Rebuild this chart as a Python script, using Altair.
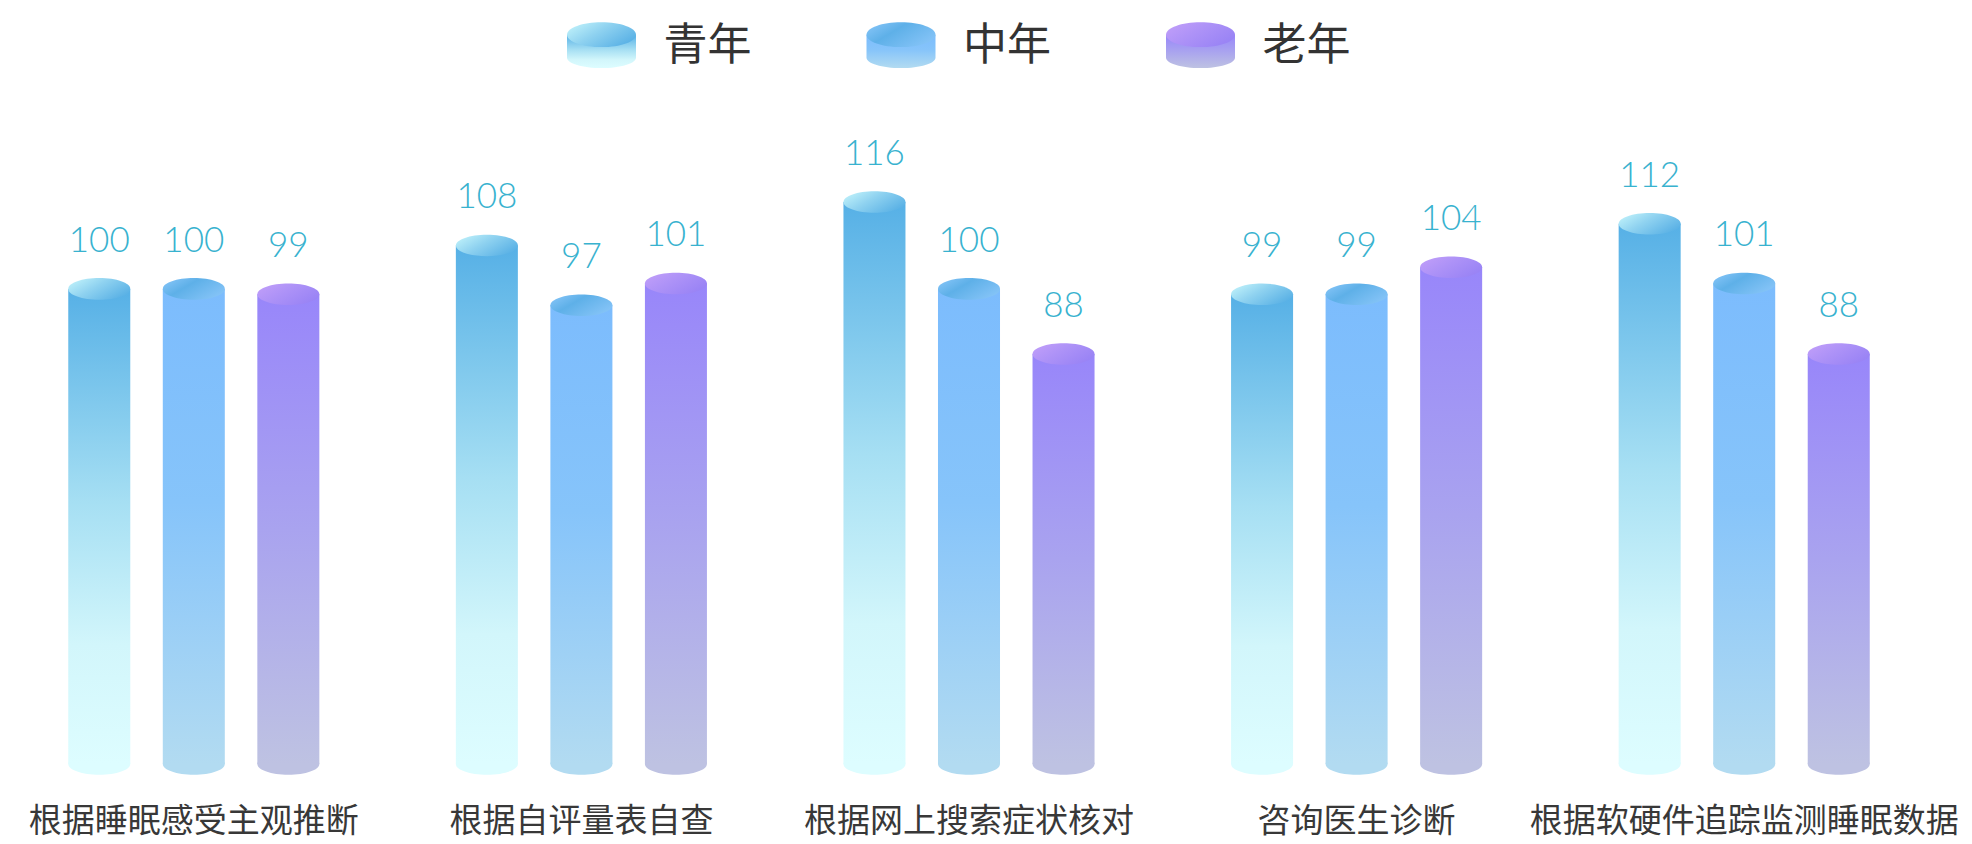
import altair as alt
import pandas as pd

# ---------------- data ----------------
CATEGORIES = ["根据睡眠感受主观推断", "根据自评量表自查", "根据网上搜索症状核对", "咨询医生诊断", "根据软硬件追踪监测睡眠数据"]
SERIES = ["青年", "中年", "老年"]
YOUNG = [100, 108, 116, 99, 112]
MIDDLE = [100, 97, 100, 99, 101]
OLD = [99, 101, 88, 104, 88]

Y_MIN = 12.5
Y_MAX = 153.2

rows = []
for s, vals in zip(SERIES, [YOUNG, MIDDLE, OLD]):
    for c, v in zip(CATEGORIES, vals):
        rows.append({"category": c, "series": s, "value": v, "base": Y_MIN})
df = pd.DataFrame(rows)
legend_df = pd.DataFrame({"series": SERIES})

# ---------------- styles ----------------
def vgrad(stops):
    return alt.LinearGradient(gradient="linear", x1=0, x2=0, y1=0, y2=1,
                              stops=[alt.GradientStop(color=c, offset=o) for o, c in stops])

def hgrad(stops):
    return alt.LinearGradient(gradient="linear", x1=0, x2=1, y1=0, y2=0.6,
                              stops=[alt.GradientStop(color=c, offset=o) for o, c in stops])

STYLE = {
    "青年": dict(
        body=[(0, "#56b0e6"), (0.45, "#a6dff3"), (0.75, "#d2f6fb"), (1, "#ddfdff")],
        cap=[(0, "#c8f7fc"), (0.5, "#8fd2f0"), (1, "#5db3e6")],
        bottom="#ddfdff"),
    "中年": dict(
        body=[(0, "#7cbcfd"), (0.45, "#86c4fa"), (1, "#b2dbf1")],
        cap=[(0, "#8cc8fa"), (0.45, "#5eb0e8"), (1, "#82c2f6")],
        bottom="#b2dbf1"),
    "老年": dict(
        body=[(0, "#9886fa"), (0.5, "#a9a3ef"), (1, "#bec2e2")],
        cap=[(0, "#c3a0f9"), (0.5, "#ad92f7"), (1, "#9a84f5")],
        bottom="#bec2e2"),
}

ELLIPSE = "M-1,0A1,0.347,0,1,0,1,0A1,0.347,0,1,0,-1,0Z"
ICON_BODY = "M-1,-0.3L-1,0.37A1,0.3,0,0,0,1,0.37L1,-0.3Z"
ICON_CAP = "M-1,-0.3A1,0.36,0,1,0,1,-0.3A1,0.36,0,1,0,-1,-0.3Z"
BAR_W = 62
ICON_W = 69

# ---------------- encodings ----------------
x_enc = alt.X("category:N", sort=CATEGORIES, title=None,
              scale=alt.Scale(paddingInner=0, paddingOuter=0),
              axis=alt.Axis(domain=False, ticks=False, grid=False, labelAngle=0,
                            labelFontSize=33, labelFont="Noto Sans CJK SC",
                            labelColor="#383838", labelPadding=41, labelLimit=0))
xo_enc = alt.XOffset("series:N", sort=SERIES,
                     scale=alt.Scale(domain=SERIES, paddingInner=0.344, paddingOuter=0.722))
y_scale = alt.Scale(domain=[Y_MIN, Y_MAX], zero=False, nice=False)
y_val = alt.Y("value:Q", scale=y_scale, axis=None)
y_base = alt.Y("base:Q", scale=y_scale, axis=None)

main_layers = []
for s in SERIES:
    st = STYLE[s]
    src = alt.Chart(df).transform_filter(alt.datum.series == s)
    main_layers.append(
        src.mark_point(shape=ELLIPSE, size=BAR_W ** 2, filled=True, opacity=1,
                       color=st["bottom"], strokeWidth=0)
        .encode(x=x_enc, xOffset=xo_enc, y=y_base))
    main_layers.append(
        src.mark_bar(color=vgrad(st["body"]), opacity=1)
        .encode(x=x_enc, xOffset=xo_enc, y=y_val, y2=alt.Y2("base:Q")))
    main_layers.append(
        src.mark_point(shape=ELLIPSE, size=BAR_W ** 2, filled=True, opacity=1,
                       color=hgrad(st["cap"]), strokeWidth=0)
        .encode(x=x_enc, xOffset=xo_enc, y=y_val))

labels = alt.Chart(df).mark_text(dy=-37, baseline="alphabetic", align="center",
                                 fontSize=35, font="Lato", fontWeight=300,
                                 color="#38b2cf").encode(
    x=x_enc, xOffset=xo_enc, y=y_val, text="value:Q")
main_layers.append(labels)

# ---------------- legend ----------------
lx = alt.X("series:N", sort=SERIES, axis=None,
           scale=alt.Scale(type="point", domain=SERIES, range=[601.5, 1200.5], padding=0))
legend_layers = []
for s in SERIES:
    st = STYLE[s]
    src = alt.Chart(legend_df).transform_filter(alt.datum.series == s)
    legend_layers.append(
        src.mark_point(shape=ICON_BODY, size=ICON_W ** 2, filled=True, opacity=1,
                       color=vgrad(st["body"]), strokeWidth=0)
        .encode(x=lx, y=alt.value(45)))
    legend_layers.append(
        src.mark_point(shape=ICON_CAP, size=ICON_W ** 2, filled=True, opacity=1,
                       color=hgrad(st["cap"]), strokeWidth=0)
        .encode(x=lx, y=alt.value(45)))
legend_layers.append(
    alt.Chart(legend_df).mark_text(align="left", baseline="middle", dx=62,
                                   fontSize=44, font="Noto Sans CJK SC",
                                   color="#333333")
    .encode(x=lx, y=alt.value(47), text="series:N"))

chart = alt.layer(
    alt.layer(*main_layers),
    alt.layer(*legend_layers),
).resolve_scale(x="independent").properties(
    width=1938, height=764,
    autosize=alt.AutoSizeParams(type="none"),
    padding={"left": 0, "top": 0, "right": 34, "bottom": 80},
    background="white",
).configure_view(stroke=None)

chart.save("out.html", embed_options={"renderer": "svg", "actions": False})
